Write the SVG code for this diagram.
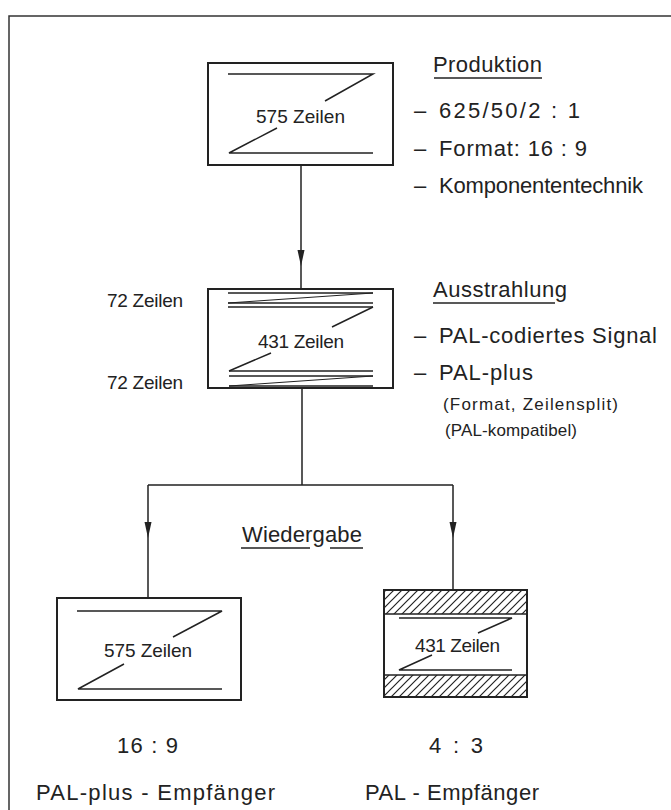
<svg xmlns="http://www.w3.org/2000/svg" xmlns:xlink="http://www.w3.org/1999/xlink" width="671" height="810" viewBox="0 0 671 810">
<style>
text{font-family:"Liberation Sans","DejaVu Sans",sans-serif;fill:#222;}
.t{font-size:22px;}
.z{font-size:19px;}
.s{font-size:17px;}
.box{fill:none;stroke:#222;stroke-width:2;}
.in{fill:none;stroke:#222;stroke-width:1.5;}
.thin{fill:none;stroke:#222;stroke-width:1;}
.con{fill:none;stroke:#222;stroke-width:1.5;}
.ul{stroke:#222;stroke-width:1.5;}
</style>
<defs>
<path id="ah" d="M-3.5,-16 L3.5,-16 L0,0 Z" fill="#222"/>
<pattern id="hatch" patternUnits="userSpaceOnUse" width="8" height="8">
<path d="M0,8 L8,0 M-2,2 L2,-2 M6,10 L10,6" stroke="#222" stroke-width="1.2"/>
</pattern>
</defs>
<rect width="671" height="810" fill="#fff"/>
<path d="M9,810 V16 H671" fill="none" stroke="#333" stroke-width="1.5"/>

<g id="connectors">
<path class="con" d="M301,165 V289"/>
<use xlink:href="#ah" x="301" y="266"/>
<path class="con" d="M302,388 V485 M148,485 H453 M148,485 V598 M453,485 V590"/>
<use xlink:href="#ah" x="148" y="538"/>
<use xlink:href="#ah" x="453" y="538"/>
</g>

<g id="produktion">
<rect class="box" x="208" y="63" width="185" height="102"/>
<path class="in" d="M228,74 H373 L325,101 M277,128 L229,153 H373"/>
<text class="z" x="256" y="123" textLength="89">575 Zeilen</text>
</g>

<g id="produktion-text">
<text class="t" x="433" y="72" textLength="109">Produktion</text>
<line class="ul" x1="434" y1="78" x2="542" y2="78"/>
<text class="t" x="414" y="118">–</text>
<text class="t" x="439" y="118" textLength="141">625/50/2 : 1</text>
<text class="t" x="414" y="156">–</text>
<text class="t" x="439" y="156" textLength="148">Format: 16 : 9</text>
<text class="t" x="414" y="193">–</text>
<text class="t" x="439" y="193" textLength="204">Komponententechnik</text>
</g>

<g id="ausstrahlung">
<rect class="box" x="208" y="289" width="185" height="99"/>
<path class="in" d="M228,293 H373 M228,303 H373 M228,307 H373 M229,371 H373 M229,376 H373 M229,386 H373"/>
<path class="thin" d="M373,293 L228,303 M373,376 L229,386"/>
<path class="in" d="M373,307 L332,327 M271,353 L229,371"/>
<text class="z" x="258" y="348" textLength="86">431 Zeilen</text>
</g>

<g id="zeilen-labels">
<text class="z" x="107" y="307" textLength="76">72 Zeilen</text>
<text class="z" x="107" y="389" textLength="76">72 Zeilen</text>
</g>

<g id="ausstrahlung-text">
<text class="t" x="433" y="297" textLength="134">Ausstrahlung</text>
<line class="ul" x1="433" y1="303" x2="555" y2="303"/>
<text class="t" x="414" y="343">–</text>
<text class="t" x="439" y="343" textLength="218">PAL-codiertes Signal</text>
<text class="t" x="414" y="380">–</text>
<text class="t" x="439" y="380" textLength="94">PAL-plus</text>
<text class="s" x="443" y="410" textLength="175">(Format, Zeilensplit)</text>
<text class="s" x="445" y="436" textLength="132">(PAL-kompatibel)</text>
</g>

<g id="wiedergabe">
<text class="t" x="242" y="542" textLength="120">Wiedergabe</text>
<path class="ul" d="M241,548 H310 M330,548 H363"/>
</g>

<g id="empfaenger-169">
<rect class="box" x="57" y="598" width="184" height="102"/>
<path class="in" d="M77,611 H222 L173,637 M124,664 L78,689 H222"/>
<text class="z" x="104" y="657" textLength="88">575 Zeilen</text>
<text class="t" x="117" y="753" textLength="61">16 : 9</text>
<text class="t" x="36" y="800" textLength="239">PAL-plus - Empfänger</text>
</g>

<g id="empfaenger-43">
<rect x="384" y="590" width="143" height="24" fill="url(#hatch)"/>
<rect x="384" y="675" width="143" height="22" fill="url(#hatch)"/>
<path class="in" d="M384,614 H527 M384,675 H527"/>
<rect class="box" x="384" y="590" width="143" height="107"/>
<path class="in" d="M399,618 H512 L478,633 M432,655 L399,670 H512"/>
<text class="z" x="415" y="652" textLength="85">431 Zeilen</text>
<text class="t" x="429" y="753" textLength="54">4 : 3</text>
<text class="t" x="365" y="800" textLength="174">PAL - Empfänger</text>
</g>
</svg>
